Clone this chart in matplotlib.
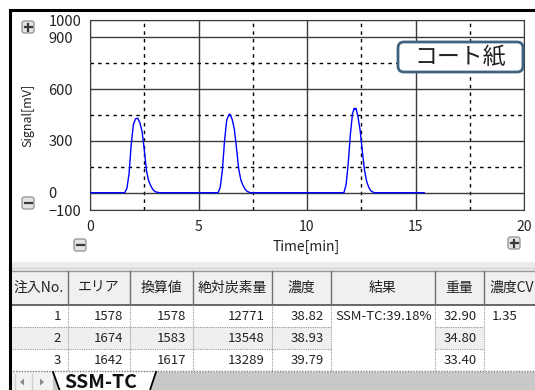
"""Chromatogram panel with its result grid, drawn as one 535x390 figure."""
import matplotlib
matplotlib.use("Agg")
import matplotlib.pyplot as plt  # noqa: E402
from matplotlib.patches import Rectangle, FancyBboxPatch, Polygon  # noqa: E402

plt.rcParams["font.family"] = ["Noto Sans CJK JP", "DejaVu Sans"]

W, H = 535, 390

# detector trace: three injections, time [min] / signal [mV]
peak1_t = [1.60, 1.70, 1.80, 1.90, 2.00, 2.10, 2.20, 2.30, 2.40, 2.50, 2.60, 2.70, 2.80, 2.90, 3.00, 3.20]
peak1_s = [0, 25, 110, 280, 395, 428, 431, 405, 355, 250, 130, 70, 40, 18, 6, 0]
peak2_t = [5.90, 6.00, 6.10, 6.20, 6.30, 6.40, 6.45, 6.55, 6.65, 6.75, 6.85, 6.95, 7.05, 7.15, 7.25, 7.40]
peak2_s = [0, 30, 130, 300, 420, 452, 455, 425, 370, 260, 140, 75, 42, 20, 7, 0]
peak3_t = [11.70, 11.80, 11.90, 12.00, 12.10, 12.18, 12.22, 12.26, 12.35, 12.45, 12.55, 12.65, 12.75, 12.85, 12.95, 13.10]
peak3_s = [0, 45, 170, 340, 460, 489, 482, 488, 440, 360, 240, 130, 65, 30, 10, 0]
run_end = 15.4

# result grid
headers = ["注入No.", "エリア", "換算値", "絶対炭素量", "濃度", "結果", "重量", "濃度CV"]
inject_no = [1, 2, 3]
area = [1578, 1674, 1642]
converted = [1578, 1583, 1617]
abs_carbon = [12771, 13548, 13289]
conc = [38.82, 38.93, 39.79]
result = ["SSM-TC:39.18%", "", ""]
weight = [32.90, 34.80, 33.40]
conc_cv = [1.35, None, None]

sample_name = "コート紙"
sheet_name = "SSM-TC"

# grid geometry (px)
col_x = [10, 68, 130, 193, 272, 331, 435, 484, 560]
merged_cols = {5, 7}
left_cols = {5}
head_top, head_bot, row_h = 271, 305, 22

fig = plt.figure(figsize=(W / 100, H / 100), dpi=100)

# ---- chromatogram ----
ax = fig.add_axes([90 / W, 1 - 210 / H, 434 / W, 190 / H])
t = [0.0] + peak1_t + peak2_t + peak3_t + [run_end]
s = [0] + peak1_s + peak2_s + peak3_s + [0]
ax.plot(t, s, color="#0000ff", lw=1.0, zorder=3)
ax.set_xlim(0, 20)
ax.set_ylim(-100, 1000)
ax.set_xticks([0, 5, 10, 15, 20])
ax.set_xticks([2.5, 7.5, 12.5, 17.5], minor=True)
ax.set_yticks([-100, 0, 300, 600, 900, 1000])
ax.set_yticks([150, 450, 750], minor=True)
ax.grid(which="major", color="#3c3c3c", lw=1.0)
ax.grid(which="minor", color="black", lw=1.0, ls=(0, (2.5, 3)))
ax.tick_params(which="both", length=0)
ax.tick_params(axis="x", pad=7, labelsize=10, labelcolor="#222222")
ax.tick_params(axis="y", pad=30, labelsize=10.5, labelcolor="#222222")
for lbl in ax.get_yticklabels():
    lbl.set_ha("left")
for sp in ax.spines.values():
    sp.set_color("#3c3c3c")
ax.set_xlabel("Time[min]", fontsize=10, color="#222222", va="center")
ax.xaxis.set_label_coords(216 / 434, -37 / 190)
ax.set_ylabel("Signal[mV]", fontsize=9, color="#222222", va="center")
ax.yaxis.set_label_coords(-62 / 434, 95 / 190)

# ---- window chrome, drawn in pixel coordinates ----
ui = fig.add_axes([0, 0, 1, 1], zorder=5)
ui.set_xlim(0, W)
ui.set_ylim(H, 0)
ui.axis("off")
ui.patch.set_alpha(0)


def button(x, y, plus):
    ui.add_patch(FancyBboxPatch((x - 6, y - 6), 12, 12,
                                boxstyle="round,pad=0,rounding_size=2.5",
                                fc="#e4e4e4", ec="#9a9a9a", lw=1))
    ui.plot([x - 3.5, x + 3.5], [y, y], color="#3a3a3a", lw=1.6)
    if plus:
        ui.plot([x, x], [y - 3.5, y + 3.5], color="#3a3a3a", lw=1.6)


button(28, 27, True)
button(28, 203, False)
button(80, 245, False)
button(514, 243, True)

ui.add_patch(FancyBboxPatch((398, 42), 125, 30, boxstyle="round,pad=0,rounding_size=6",
                            fc="white", ec="#41627f", lw=2))
ui.text(460.5, 57, sample_name, fontsize=16.5, color="#222222", ha="center", va="center")

# splitter between chart and grid
ui.add_patch(Rectangle((10, 262), W - 10, 9, fc="#ebebeb", ec="none"))
ui.plot([10, W], [267.5, 267.5], color="#d6d6d6", lw=1)

# header row
ui.add_patch(Rectangle((10, head_top), W - 10, head_bot - head_top, fc="#f0f0f0", ec="none"))
ui.plot([10, W], [head_top, head_top], color="#9a9a9a", lw=1)
ui.plot([10, W], [head_bot, head_bot], color="#505050", lw=1.2)
for i, name in enumerate(headers):
    ui.plot([col_x[i + 1]] * 2, [head_top, head_bot], color="#707070", lw=1)
    ui.text((col_x[i] + col_x[i + 1]) / 2 if i < len(headers) - 1 else col_x[i] + 28,
            (head_top + head_bot) / 2, name, fontsize=10, color="#222222",
            ha="center", va="center")


def fmt(v):
    if v is None or v == "":
        return ""
    if isinstance(v, float):
        return f"{v:.2f}"
    return str(v)


columns = [inject_no, area, converted, abs_carbon, conc, result, weight, conc_cv]
n_rows = len(inject_no)
for r in range(n_rows):
    top = head_bot + r * row_h
    for c, col in enumerate(columns):
        txt = fmt(col[r])
        if r % 2 == 1 and c not in merged_cols:
            ui.add_patch(Rectangle((col_x[c], top), col_x[c + 1] - col_x[c], row_h,
                                   fc="#efefef", ec="none"))
        if c not in merged_cols and r < n_rows - 1:
            ui.plot([col_x[c], col_x[c + 1]], [top + row_h] * 2, color="#9a9a9a",
                    lw=0.8, ls=(0, (1, 1)))
        if txt:
            if c in left_cols:
                ui.text(col_x[c] + 4, top + row_h / 2, txt, fontsize=9.5,
                        color="#222222", ha="left", va="center")
            else:
                right = col_x[c + 1] if c < len(columns) - 1 else 525
                ui.text(right - 7, top + row_h / 2, txt, fontsize=9.5,
                        color="#222222", ha="right", va="center")
grid_bot = head_bot + n_rows * row_h
for x in col_x[1:-1]:
    ui.plot([x, x], [head_bot, grid_bot], color="#9a9a9a", lw=0.8, ls=(0, (1, 1)))
ui.plot([10, W], [grid_bot, grid_bot], color="#7a7a7a", lw=1, ls=(0, (1, 1)))

# sheet tab bar
ui.add_patch(Rectangle((10, grid_bot + 1), W - 10, H - grid_bot, fc="#c8c8c8", ec="none"))
ui.add_patch(Rectangle((10, grid_bot + 1), 43, H - grid_bot, fc="#f2f2f2", ec="none"))
ui.add_patch(Polygon([(20, 382), (24, 378.5), (24, 385.5)], fc="#8a8a8a", ec="none"))
ui.add_patch(Polygon([(44, 382), (40, 378.5), (40, 385.5)], fc="#8a8a8a", ec="none"))
ui.plot([32, 32], [374, 390], color="#d0d0d0", lw=1)
ui.plot([15, 15], [374, 390], color="#d0d0d0", lw=1)
ui.add_patch(Polygon([(53, grid_bot + 1), (156, grid_bot + 1), (150, H + 2), (59, H + 2)],
                     fc="white", ec="none"))
ui.plot([53, 59.5], [grid_bot + 1, H], color="black", lw=1.3)
ui.plot([150, 156], [H, grid_bot + 1], color="black", lw=1.3)
ui.text(101, 382, sheet_name, fontsize=14, fontweight="bold", color="#111111",
        ha="center", va="center")

# window frame
ui.plot([10, W], [10, 10], color="black", lw=2.2)
ui.plot([10, 10], [10, H], color="black", lw=2.2)

fig.savefig("out.png", dpi=100)
plt.close(fig)
